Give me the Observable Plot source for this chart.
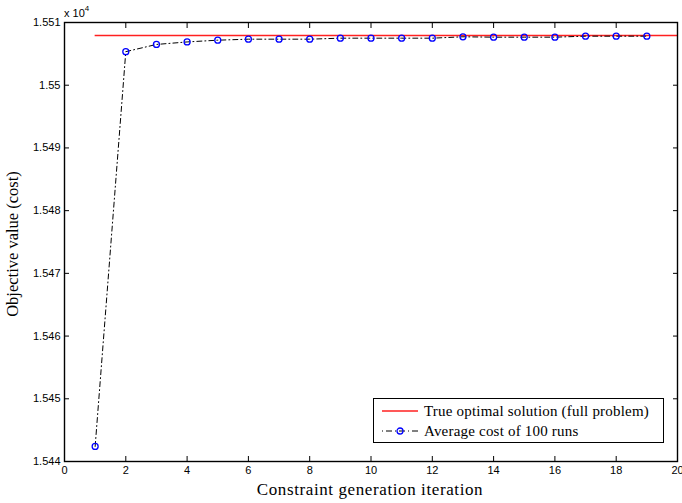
<!DOCTYPE html>
<html><head><meta charset="utf-8">
<script src="https://cdn.jsdelivr.net/npm/d3@7"></script>
<script src="https://cdn.jsdelivr.net/npm/@observablehq/plot@0.6"></script>
<style>
body{margin:0;background:#fff}
#wrap{position:relative;width:682px;height:503px;overflow:hidden}
.ser{font-family:"Liberation Serif","DejaVu Serif",serif;color:#000;position:absolute;white-space:nowrap}
.sans{font-family:"Liberation Sans",Arial,sans-serif;color:#000;position:absolute;white-space:nowrap}
</style>
</head><body><div id="wrap"></div>
<script>
const iterations = [1,2,3,4,5,6,7,8,9,10,11,12,13,14,15,16,17,18,19];
const avgCost = [15442.4,15505.35,15506.5,15506.9,15507.18,15507.34,15507.34,15507.34,15507.5,15507.5,15507.5,15507.5,15507.72,15507.66,15507.66,15507.66,15507.82,15507.82,15507.82];
const trueOptimal = 15507.93;
const optimalRange = [1, 20];
const xTicks = [0,2,4,6,8,10,12,14,16,18,20];
const yTicks = [15440,15450,15460,15470,15480,15490,15500,15510];
const legendLabels = ["True optimal solution (full problem)", "Average cost of 100 runs"];
const xTitle = "Constraint generation iteration";
const yTitle = "Objective value (cost)";

const pts = iterations.map((x,i)=>({x, y: avgCost[i]}));
const fmtY = d => String(+(d/1e4).toFixed(4));
const none = () => "";

const chart = Plot.plot({
  width: 682, height: 503,
  marginLeft: 64, marginRight: 5, marginTop: 22, marginBottom: 42,
  style: {fontFamily: '"Liberation Sans", Arial, sans-serif', fontSize: "11px", color: "#000", background: "#fff"},
  x: {domain: [0,20]},
  y: {domain: [15440,15510]},
  marks: [
    Plot.axisX(xTicks, {anchor:"bottom", tickSize: 0, tickPadding: 5, label: null, fontSize: 11}),
    Plot.axisX(xTicks, {anchor:"bottom", tickSize: -5, tickFormat: none, label: null}),
    Plot.axisX(xTicks, {anchor:"top", tickSize: -5, tickFormat: none, label: null}),
    Plot.axisY(yTicks, {anchor:"left", tickSize: 0, tickPadding: 4, tickFormat: fmtY, label: null, fontSize: 11}),
    Plot.axisY(yTicks, {anchor:"left", tickSize: -5, tickFormat: none, label: null}),
    Plot.axisY(yTicks, {anchor:"right", tickSize: -5, tickFormat: none, label: null}),
    Plot.ruleY([trueOptimal], {x1: optimalRange[0], x2: optimalRange[1], stroke: "#ff2020", strokeWidth: 1.3}),
    Plot.line(pts, {x: "x", y: "y", stroke: "#000", strokeWidth: 1, strokeDasharray: "5,3,1,3"}),
    Plot.dot(pts, {x: "x", y: "y", r: 3, stroke: "#0000ff", strokeWidth: 1.3, fill: "none"}),
    Plot.frame({stroke: "#000", strokeWidth: 1.4})
  ]
});
const wrap = document.getElementById("wrap");
wrap.appendChild(chart);

function add(cls, html, css){const d=document.createElement("div");d.className=cls;d.innerHTML=html;Object.assign(d.style,css);wrap.appendChild(d);return d;}
add("sans", 'x 10<sup style="font-size:8px;vertical-align:6px">4</sup>', {left:"64px", top:"4px", fontSize:"11px"});
add("ser", xTitle, {left:"370px", top:"480px", fontSize:"17px", letterSpacing:"0.6px", transform:"translateX(-50%)"});
add("ser", yTitle, {left:"13px", top:"244px", fontSize:"16.5px", letterSpacing:"0px", transform:"translate(-50%,-50%) rotate(-90deg)"});

const lg = add("ser", "", {left:"373px", top:"398px", width:"289px", height:"43px", border:"1px solid #000", background:"#fff", fontSize:"15px", letterSpacing:"0.2px"});
lg.innerHTML =
 `<div style="position:absolute;left:8px;top:2px;height:20px;display:flex;align-items:center">
   <svg width="36" height="10"><line x1="0" y1="5" x2="36" y2="5" stroke="#ff2020" stroke-width="1.3"/></svg>
   <span style="margin-left:6px">${legendLabels[0]}</span></div>
  <div style="position:absolute;left:8px;top:22px;height:20px;display:flex;align-items:center">
   <svg width="36" height="10"><line x1="0" y1="5" x2="36" y2="5" stroke="#000" stroke-width="1" stroke-dasharray="1,3,6,3"/><circle cx="18" cy="5" r="3" stroke="#0000ff" stroke-width="1.3" fill="none"/></svg>
   <span style="margin-left:6px">${legendLabels[1]}</span></div>`;
</script>
</body></html>
